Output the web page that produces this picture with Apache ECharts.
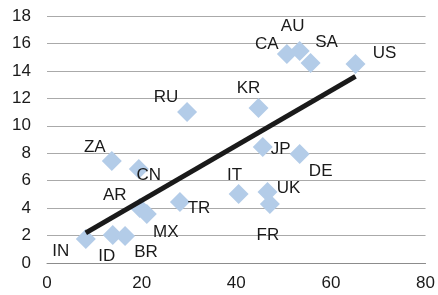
<!DOCTYPE html>
<html>
<head>
<meta charset="utf-8">
<script src="https://cdn.jsdelivr.net/npm/echarts@6/dist/echarts.min.js"></script>
<style>
  html, body { margin: 0; padding: 0; background: #fff; }
  #chart { width: 438px; height: 295px; }
</style>
</head>
<body>
<div id="chart"></div>
<script>
// country codes and the two values
const countries = ['IN', 'ID', 'BR', 'AR', 'MX', 'TR', 'ZA', 'CN', 'RU', 'KR', 'CA', 'AU', 'SA', 'US', 'JP', 'DE', 'IT', 'UK', 'FR']
const xValues = [8.2, 13.9, 16.5, 19.6, 21.1, 28.1, 13.7, 19.4, 29.6, 44.7, 50.7, 53.4, 55.7, 65.2, 45.6, 53.4, 40.5, 46.6, 47.1]
const yValues = [1.75, 2.04, 1.97, 4.0, 3.57, 4.45, 7.43, 6.85, 11.0, 11.3, 15.23, 15.45, 14.58, 14.5, 8.45, 7.94, 5.03, 5.17, 4.3]
// trend line end points
const trendX = [8.2, 65.2]
const trendY = [2.2, 13.6]
// axis ticks
const xTicks = [0, 20, 40, 60, 80]
const yTicks = [0, 2, 4, 6, 8, 10, 12, 14, 16, 18]

// where each label sits relative to its marker (px)
const labelOffsets = {
  IN: [-25, 12], ID: [-6, 21], BR: [21, 16], AR: [-25, -13], MX: [19, 18],
  TR: [19, 6], ZA: [-17, -14], CN: [10, 6], RU: [-21, -15], KR: [-10, -20],
  CA: [-20, -10], AU: [-7, -25], SA: [16, -21], US: [29, -11], JP: [18, 2],
  DE: [21, 17], IT: [-4, -19], UK: [21, -4], FR: [-2, 31]
}

const font = 'Liberation Sans, Arial, sans-serif'

const points = countries.map((c, i) => ({
  name: c,
  value: [xValues[i], yValues[i]],
  label: { offset: labelOffsets[c] }
}))

const chart = echarts.init(document.getElementById('chart'))
chart.setOption({
  animation: false,
  grid: { left: 47, right: 12, top: 16, bottom: 32, containLabel: false },
  xAxis: {
    type: 'value',
    min: xTicks[0],
    max: xTicks[xTicks.length - 1],
    interval: xTicks[1] - xTicks[0],
    axisLine: { show: true, lineStyle: { color: '#8c8c8c', width: 1 } },
    axisTick: { show: false },
    splitLine: { show: false },
    axisLabel: { color: '#1a1a1a', fontSize: 17, fontFamily: font, margin: 12 }
  },
  yAxis: {
    type: 'value',
    min: yTicks[0],
    max: yTicks[yTicks.length - 1],
    interval: yTicks[1] - yTicks[0],
    axisLine: { show: false },
    axisTick: { show: false },
    splitLine: { lineStyle: { color: '#aaaaaa', width: 1 } },
    axisLabel: { color: '#1a1a1a', fontSize: 17, fontFamily: font, margin: 16 }
  },
  series: [
    {
      type: 'scatter',
      symbol: 'diamond',
      symbolSize: 20,
      itemStyle: { color: '#b3cce8', opacity: 1 },
      label: {
        show: true,
        position: 'inside',
        formatter: '{b}',
        color: '#1a1a1a',
        fontSize: 17,
        fontFamily: font
      },
      data: points,
      z: 2
    },
    {
      type: 'line',
      data: trendX.map((x, i) => [x, trendY[i]]),
      symbol: 'none',
      lineStyle: { color: '#1a1a1a', width: 5 },
      z: 3
    }
  ]
})
</script>
</body>
</html>
